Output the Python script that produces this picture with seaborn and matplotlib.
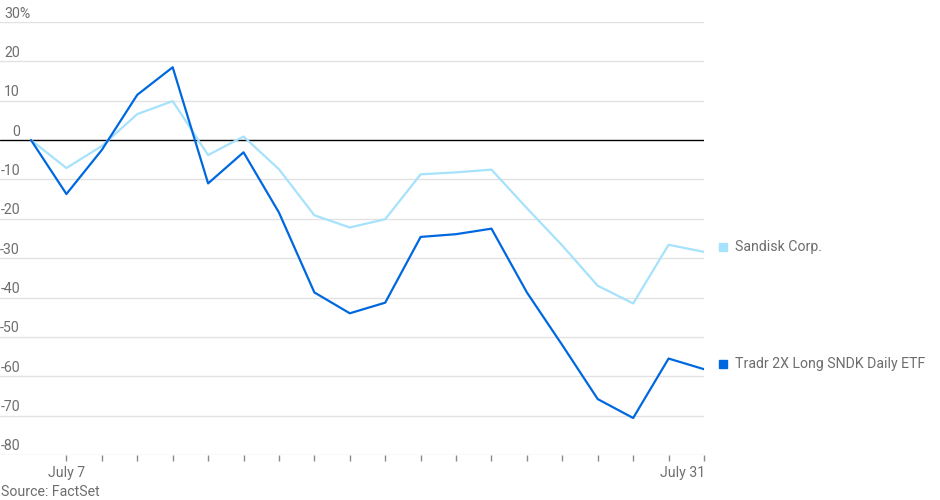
import matplotlib
matplotlib.use("Agg")
import matplotlib.pyplot as plt
import matplotlib.transforms as mtransforms
import seaborn as sns
import pandas as pd

dates = ["July 3", "July 7", "July 8", "July 9", "July 10", "July 11", "July 14",
         "July 15", "July 16", "July 17", "July 18", "July 21", "July 22", "July 23",
         "July 24", "July 25", "July 28", "July 29", "July 30", "July 31"]
sandisk = [0, -7.1, -1.5, 6.6, 9.9, -3.8, 0.9, -7.4, -19.1, -22.2, -20.1, -8.7,
           -8.2, -7.5, -17.3, -26.8, -37.0, -41.5, -26.6, -28.4]
tradr = [0, -13.7, -2.5, 11.5, 18.5, -11.0, -3.1, -18.4, -38.7, -44.0, -41.3, -24.6,
         -23.9, -22.5, -38.7, -52.1, -65.8, -70.6, -55.5, -58.2]
series_names = ["Sandisk Corp.", "Tradr 2X Long SNDK Daily ETF"]
y_ticks = [30, 20, 10, 0, -10, -20, -30, -40, -50, -60, -70, -80]
x_tick_labels = {"July 7": "July 7", "July 31": "July 31"}
source = "Source: FactSet"

colors = {"Sandisk Corp.": "#A6E2FB", "Tradr 2X Long SNDK Daily ETF": "#0068DF"}
grey = "#6E6E6E"

sns.set_theme(style="white")
plt.rcParams['font.family'] = ['Roboto', 'DejaVu Sans']
FS = 10.2

df = pd.DataFrame({
    "idx": list(range(len(dates))) * 2,
    "date": dates * 2,
    "value": sandisk + tradr,
    "series": [series_names[0]] * len(dates) + [series_names[1]] * len(dates),
})

fig = plt.figure(figsize=(9.4, 5.0), dpi=100)
ax = fig.add_axes([0, 1 - 455 / 500, 704 / 940, (455 - 22) / 500])

# gridlines
for v in y_ticks:
    if v == 0:
        continue
    ax.axhline(v, color="#E2E2E2", lw=1.0, zorder=0)

sns.lineplot(data=df, x="idx", y="value", hue="series", palette=colors,
             hue_order=series_names, linewidth=1.6, legend=False, ax=ax,
             zorder=3)
ax.axhline(0, color="#000000", lw=1.0, zorder=2)

n = len(dates)
ax.set_xlim(-31 / 35.42, n - 1)
ax.set_ylim(y_ticks[-1], y_ticks[0])
for s in ax.spines.values():
    s.set_visible(False)
ax.set_xlabel("")
ax.set_ylabel("")
ax.set_yticks([])

ticks = list(range(1, n))
ax.set_xticks(ticks)
ax.set_xticklabels([x_tick_labels.get(dates[i], "") for i in ticks],
                   fontsize=FS, color=grey)
ax.tick_params(axis="x", length=4, width=1, color="#8A8A8A", pad=4, bottom=True)
for lab in ax.get_xticklabels():
    if lab.get_text() == "July 31":
        lab.set_ha("right")
        lab.set_transform(lab.get_transform() + mtransforms.ScaledTranslation(1 / 100, 0, fig.dpi_scale_trans))

# y labels above gridlines
ytrans = mtransforms.blended_transform_factory(ax.transAxes, ax.transData)
xl = 20 / 704
renderer = fig.canvas.get_renderer()
for v in y_ticks:
    off = mtransforms.offset_copy(ytrans, fig=fig, x=0, y=4.5, units="dots")
    t = ax.text(xl, v, str(v), ha="right", va="baseline", fontsize=FS, color=grey,
                transform=off, clip_on=False)
    if v == y_ticks[0]:
        x0 = t.get_window_extent(renderer=renderer).x0
        t.remove()
        off2 = mtransforms.offset_copy(
            mtransforms.blended_transform_factory(mtransforms.IdentityTransform(), ax.transData),
            fig=fig, x=0, y=4.5, units="dots")
        ax.text(x0, v, f"{v}%", ha="left", va="baseline", fontsize=FS, color=grey,
                transform=off2, clip_on=False)

# direct labels at right
for name, vals in zip(series_names, [sandisk, tradr]):
    last = vals[-1]
    sq = ax.transData + mtransforms.ScaledTranslation(19 / 100, 5 / 100, fig.dpi_scale_trans)
    ax.plot([n - 1], [last], marker="s", ms=6.2, color=colors[name],
            transform=sq, clip_on=False, lw=0)
    ax.annotate(name, xy=(n - 1, last), xytext=(31, 5), textcoords="offset pixels",
                ha="left", va="center", fontsize=FS, color=grey, annotation_clip=False)

fig.text(0.7 / 940, 1 - 492 / 500, source, ha="left", va="center", fontsize=FS, color=grey)

fig.savefig("out.png", dpi=100)
